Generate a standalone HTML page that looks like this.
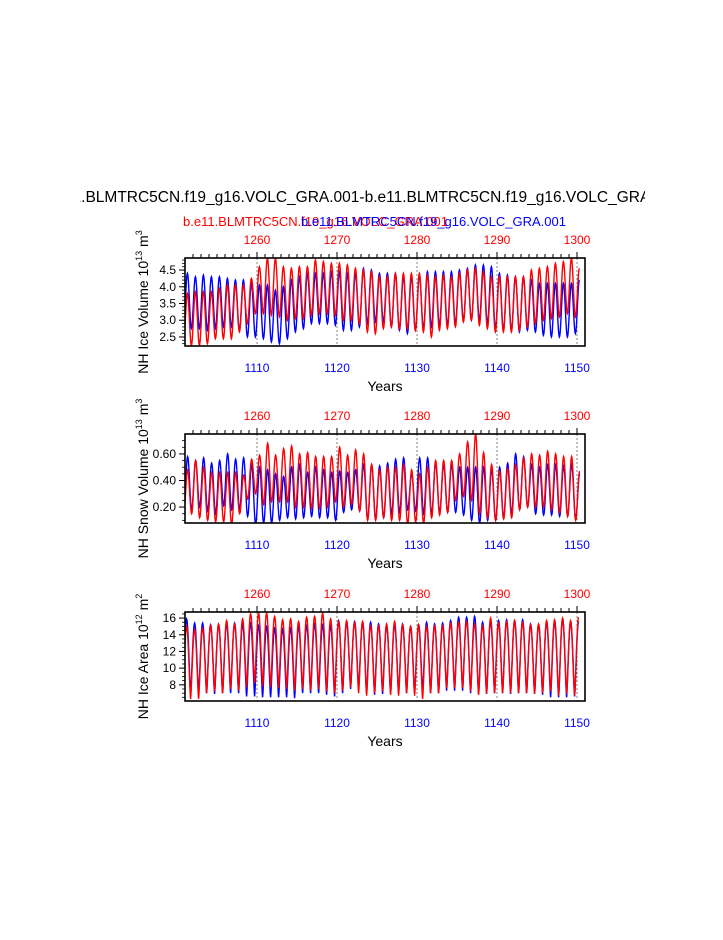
<!DOCTYPE html>
<html><head><meta charset="utf-8"><style>
body{margin:0;background:#fff;width:723px;height:935px;overflow:hidden;font-family:"Liberation Sans",sans-serif}
</style></head><body>
<svg id="s" width="723" height="935" xmlns="http://www.w3.org/2000/svg" font-family="Liberation Sans, sans-serif">
<defs><clipPath id="tc"><rect x="80" y="180" width="565" height="30"/></clipPath></defs>
<text x="362" y="202" font-size="15.5" text-anchor="middle" clip-path="url(#tc)">b.e11.BLMTRC5CN.f19_g16.VOLC_GRA.001-b.e11.BLMTRC5CN.f19_g16.VOLC_GRA.001</text>
<text x="183" y="226" font-size="13" fill="#f00">b.e11.BLMTRC5CN.f19_g16.VOLC_GRA.001</text>
<text x="301" y="226" font-size="13" fill="#00f">b.e11.BLMTRC5CN.f19_g16.VOLC_GRA.001</text>
</svg>
<script>
const years=[];for(let y=1101;y<=1150;y++)years.push(y);
const xTicks=[1110,1120,1130,1140,1150];
const topTicks=[1260,1270,1280,1290,1300];
const volBlueMax=[4.4,4.3,4.35,4.3,4.3,4.25,4.2,4.2,4.1,4.05,4.05,3.9,4.0,4.2,4.3,4.4,4.4,4.4,4.45,4.45,4.4,4.4,4.55,4.5,4.4,4.4,4.4,4.3,4.3,4.35,4.45,4.45,4.45,4.45,4.5,4.55,4.65,4.65,4.6,4.4,4.35,4.3,4.3,4.2,4.1,4.1,4.1,4.1,4.1,4.2];
const volBlueMin=[2.8,2.75,2.75,2.7,2.75,2.8,2.8,2.7,2.5,2.5,2.45,2.35,2.3,2.45,2.65,2.75,2.9,2.9,2.9,2.85,2.7,2.7,2.8,2.9,2.95,2.95,2.8,2.7,2.6,2.7,2.75,2.8,2.85,2.85,2.9,3.0,3.0,3.0,2.9,2.75,2.7,2.7,2.65,2.7,2.65,2.55,2.5,2.5,2.5,2.6];
const volRedMax=[3.8,3.85,3.85,3.85,3.95,4.05,4.05,4.05,4.25,4.6,4.85,4.85,4.6,4.55,4.6,4.6,4.8,4.75,4.7,4.7,4.65,4.55,4.5,4.45,4.3,4.3,4.4,4.4,4.4,4.4,4.35,4.3,4.35,4.3,4.4,4.5,4.55,4.45,4.3,4.3,4.3,4.3,4.3,4.5,4.55,4.6,4.7,4.75,4.85,4.55];
const volRedMin=[2.25,2.25,2.25,2.3,2.45,2.45,2.45,2.65,2.9,3.2,3.2,3.15,3.1,3.0,3.05,3.05,3.15,3.2,3.2,3.15,3.0,3.0,2.9,2.65,2.6,2.75,2.8,2.75,2.75,2.7,2.65,2.5,2.7,2.75,2.8,2.95,3.0,2.85,2.75,2.65,2.65,2.65,2.7,2.8,2.9,3.0,3.05,3.1,3.2,3.1];
const snowBlueMax=[0.58,0.55,0.57,0.53,0.55,0.60,0.56,0.57,0.52,0.50,0.48,0.45,0.43,0.50,0.52,0.46,0.50,0.48,0.46,0.47,0.46,0.48,0.52,0.52,0.51,0.53,0.56,0.57,0.45,0.57,0.57,0.53,0.52,0.52,0.50,0.50,0.50,0.50,0.48,0.50,0.53,0.60,0.58,0.52,0.50,0.52,0.52,0.51,0.52,0.45];
const snowBlueMin=[0.15,0.18,0.20,0.17,0.15,0.21,0.18,0.18,0.13,0.07,0.08,0.08,0.10,0.12,0.11,0.12,0.13,0.12,0.12,0.10,0.16,0.18,0.17,0.11,0.11,0.12,0.15,0.16,0.18,0.17,0.15,0.15,0.16,0.16,0.16,0.14,0.10,0.08,0.10,0.10,0.12,0.15,0.18,0.20,0.15,0.14,0.14,0.13,0.13,0.11];
const snowRedMax=[0.48,0.55,0.50,0.46,0.46,0.46,0.46,0.44,0.56,0.59,0.68,0.59,0.64,0.66,0.60,0.61,0.58,0.58,0.58,0.65,0.59,0.63,0.60,0.52,0.48,0.50,0.50,0.52,0.48,0.45,0.50,0.55,0.55,0.55,0.60,0.69,0.75,0.61,0.52,0.47,0.49,0.52,0.57,0.60,0.59,0.62,0.60,0.58,0.58,0.47];
const snowRedMin=[0.15,0.15,0.12,0.10,0.09,0.09,0.07,0.15,0.26,0.30,0.22,0.24,0.24,0.24,0.20,0.20,0.19,0.19,0.20,0.24,0.20,0.22,0.17,0.10,0.10,0.12,0.10,0.10,0.07,0.09,0.08,0.12,0.14,0.16,0.25,0.28,0.25,0.15,0.12,0.10,0.11,0.12,0.18,0.20,0.20,0.20,0.18,0.16,0.13,0.10];
const areaBlueMax=[15.9,15.4,15.4,15.2,15.2,15.3,15.4,15.3,15.4,15.1,15.0,14.8,14.7,14.8,15.0,15.1,15.3,15.2,15.1,15.7,15.5,15.6,15.5,15.5,15.3,15.0,15.2,15.3,15.0,15.2,15.5,15.3,15.4,15.7,16.1,16.1,16.2,15.5,15.6,15.7,15.8,15.7,15.8,15.3,15.2,15.5,15.6,15.9,15.6,15.6];
const areaBlueMin=[7.0,6.9,7.0,7.0,6.9,7.0,7.0,7.0,6.6,6.6,6.5,6.5,6.5,6.5,6.4,7.0,7.0,7.0,6.8,6.6,7.0,7.5,7.5,7.0,6.8,6.9,7.0,7.0,7.0,7.0,7.2,7.0,7.0,7.3,7.3,7.3,7.0,6.9,6.9,7.0,7.0,6.9,7.0,7.0,7.0,6.8,6.5,6.5,6.5,6.6];
const areaRedMax=[15.0,14.6,14.8,15.1,15.3,15.7,15.3,15.9,16.5,16.6,16.6,16.2,15.8,15.9,15.6,16.1,16.2,16.6,15.9,15.6,15.7,15.5,15.6,15.1,15.1,15.3,15.6,15.2,15.0,15.2,15.0,15.1,15.1,15.4,15.5,15.6,15.3,15.1,16.0,15.4,15.6,15.7,15.5,15.2,15.3,15.7,15.8,16.0,15.7,16.1];
const areaRedMin=[6.9,6.3,6.3,7.0,7.2,7.0,7.5,7.3,7.7,8.2,7.8,7.7,7.6,7.5,7.3,7.5,7.3,7.5,7.2,7.0,7.3,7.7,7.0,6.7,7.0,7.2,6.8,6.7,7.0,6.7,6.3,7.0,7.0,7.6,7.6,7.6,7.2,6.8,6.9,7.0,7.0,7.0,7.0,7.0,6.9,7.0,7.2,6.7,6.9,6.7];

const svg=document.getElementById('s');const NS='http://www.w3.org/2000/svg';
function mk(t,a,p){const e=document.createElementNS(NS,t);for(const k in a)e.setAttribute(k,a[k]);(p||svg).appendChild(e);return e;}
const X0=185,X1=585,XMIN=1101,XMAX=1151;
const xs=v=>X0+(v-XMIN)/(XMAX-XMIN)*(X1-X0);
const panels=[
 {name:'ice-volume',top:258,bot:346,ymin:2.23,ymax:4.86,yt:[2.5,3.0,3.5,4.0,4.5],fmt:v=>v.toFixed(1),minor:0.1,bMax:volBlueMax,bMin:volBlueMin,rMax:volRedMax,rMin:volRedMin,phase:0.3,pw:1,label:'NH Ice Volume 10',sup1:'13',unit:' m',sup2:'3'},
 {name:'snow-volume',top:434,bot:523,ymin:0.08,ymax:0.75,yt:[0.2,0.4,0.6],fmt:v=>v.toFixed(2),minor:0.05,bMax:snowBlueMax,bMin:snowBlueMin,rMax:snowRedMax,rMin:snowRedMin,phase:0.33,pw:1,label:'NH Snow Volume 10',sup1:'13',unit:' m',sup2:'3'},
 {name:'ice-area',top:612,bot:701,ymin:6.06,ymax:16.73,yt:[8,10,12,14,16],fmt:v=>String(v),minor:0.5,bMax:areaBlueMax,bMin:areaBlueMin,rMax:areaRedMax,rMin:areaRedMin,phase:0.2,pw:0.7,label:'NH Ice Area 10',sup1:'12',unit:' m',sup2:'2'}
];
panels.forEach(P=>{
 const g=mk('g',{});
 
 
 const ys=v=>P.bot-(v-P.ymin)/(P.ymax-P.ymin)*(P.bot-P.top);
 const cid='c-'+P.name;
 const cp=mk('clipPath',{id:cid},g);mk('rect',{x:X0,y:P.top,width:X1-X0,height:P.bot-P.top},cp);
 xTicks.forEach(t=>{const l=mk('line',{x1:xs(t),x2:xs(t),y1:P.top,y2:P.bot,stroke:'#666','stroke-width':0.8,'stroke-dasharray':'2,2'},g);
  
  });
 function series(mx,mn,color,nm){
  let d='';
  for(let i=0;i<mx.length;i++){
   const start=years[i]+P.phase-1;
   for(let k=0;k<=24;k++){
    const f=k/24;let v;
    if(f<=0.5){const prev=i>0?mx[i-1]:mx[i];const c=(1+Math.cos(Math.PI*f*2))/2;v=mn[i]+(prev-mn[i])*Math.pow(c,P.pw);}
    else{const c=(1+Math.cos(Math.PI*(1-f)*2))/2;v=mn[i]+(mx[i]-mn[i])*Math.pow(c,P.pw);}
    const t=start+f;
    d+=(d?'L':'M')+xs(t).toFixed(2)+','+ys(v).toFixed(2);
   }
  }
  const p=mk('path',{d:d,fill:'none',stroke:color,'stroke-width':1.4,'clip-path':'url(#'+cid+')'},g);
  
  
 }
 series(P.bMax,P.bMin,'#00f','blue');
 series(P.rMax,P.rMin,'#f00','red');
 const fr=mk('rect',{x:X0,y:P.top,width:X1-X0,height:P.bot-P.top,fill:'none',stroke:'#000','stroke-width':1.6},g);
 
 
 for(let y=1102;y<=1150;y++){const maj=y%10===0;const L=maj?6:4;
  mk('line',{x1:xs(y),x2:xs(y),y1:P.top,y2:P.top-L,stroke:'#000','stroke-width':1},g);}
 xTicks.forEach(t=>{const e=mk('text',{x:xs(t),y:P.bot+26,'font-size':12,fill:'#00f','text-anchor':'middle'},g);e.textContent=t;
  
  });
 topTicks.forEach((t,i)=>{const e=mk('text',{x:xs(xTicks[i]),y:P.top-14,'font-size':12,fill:'#f00','text-anchor':'middle'},g);e.textContent=t;
  
  });
 for(let v=Math.ceil(P.ymin/P.minor)*P.minor;v<=P.ymax;v+=P.minor){
  mk('line',{x1:X0,x2:X0-3,y1:ys(v),y2:ys(v),stroke:'#000','stroke-width':0.8},g);}
 P.yt.forEach(v=>{mk('line',{x1:X0,x2:X0-6,y1:ys(v),y2:ys(v),stroke:'#000','stroke-width':1},g);
  const e=mk('text',{x:X0-9,y:ys(v)+4,'font-size':12,'text-anchor':'end'},g);e.textContent=P.fmt(v);
  
  });
 const xt=mk('text',{x:385,y:P.bot+45,'font-size':14,'text-anchor':'middle'},g);xt.textContent='Years';
 
 
 const cy=(P.top+P.bot)/2;
 const yt=mk('text',{x:0,y:0,'font-size':14,'text-anchor':'middle',transform:'translate(148,'+cy+') rotate(-90)'},g);
 
 
 const s1=mk('tspan',{},yt);s1.textContent=P.label;
 const s2=mk('tspan',{dy:-6,'font-size':9},yt);s2.textContent=P.sup1;
 const s3=mk('tspan',{dy:6},yt);s3.textContent=P.unit;
 const s4=mk('tspan',{dy:-6,'font-size':9},yt);s4.textContent=P.sup2;
});
</script>
</body></html>
